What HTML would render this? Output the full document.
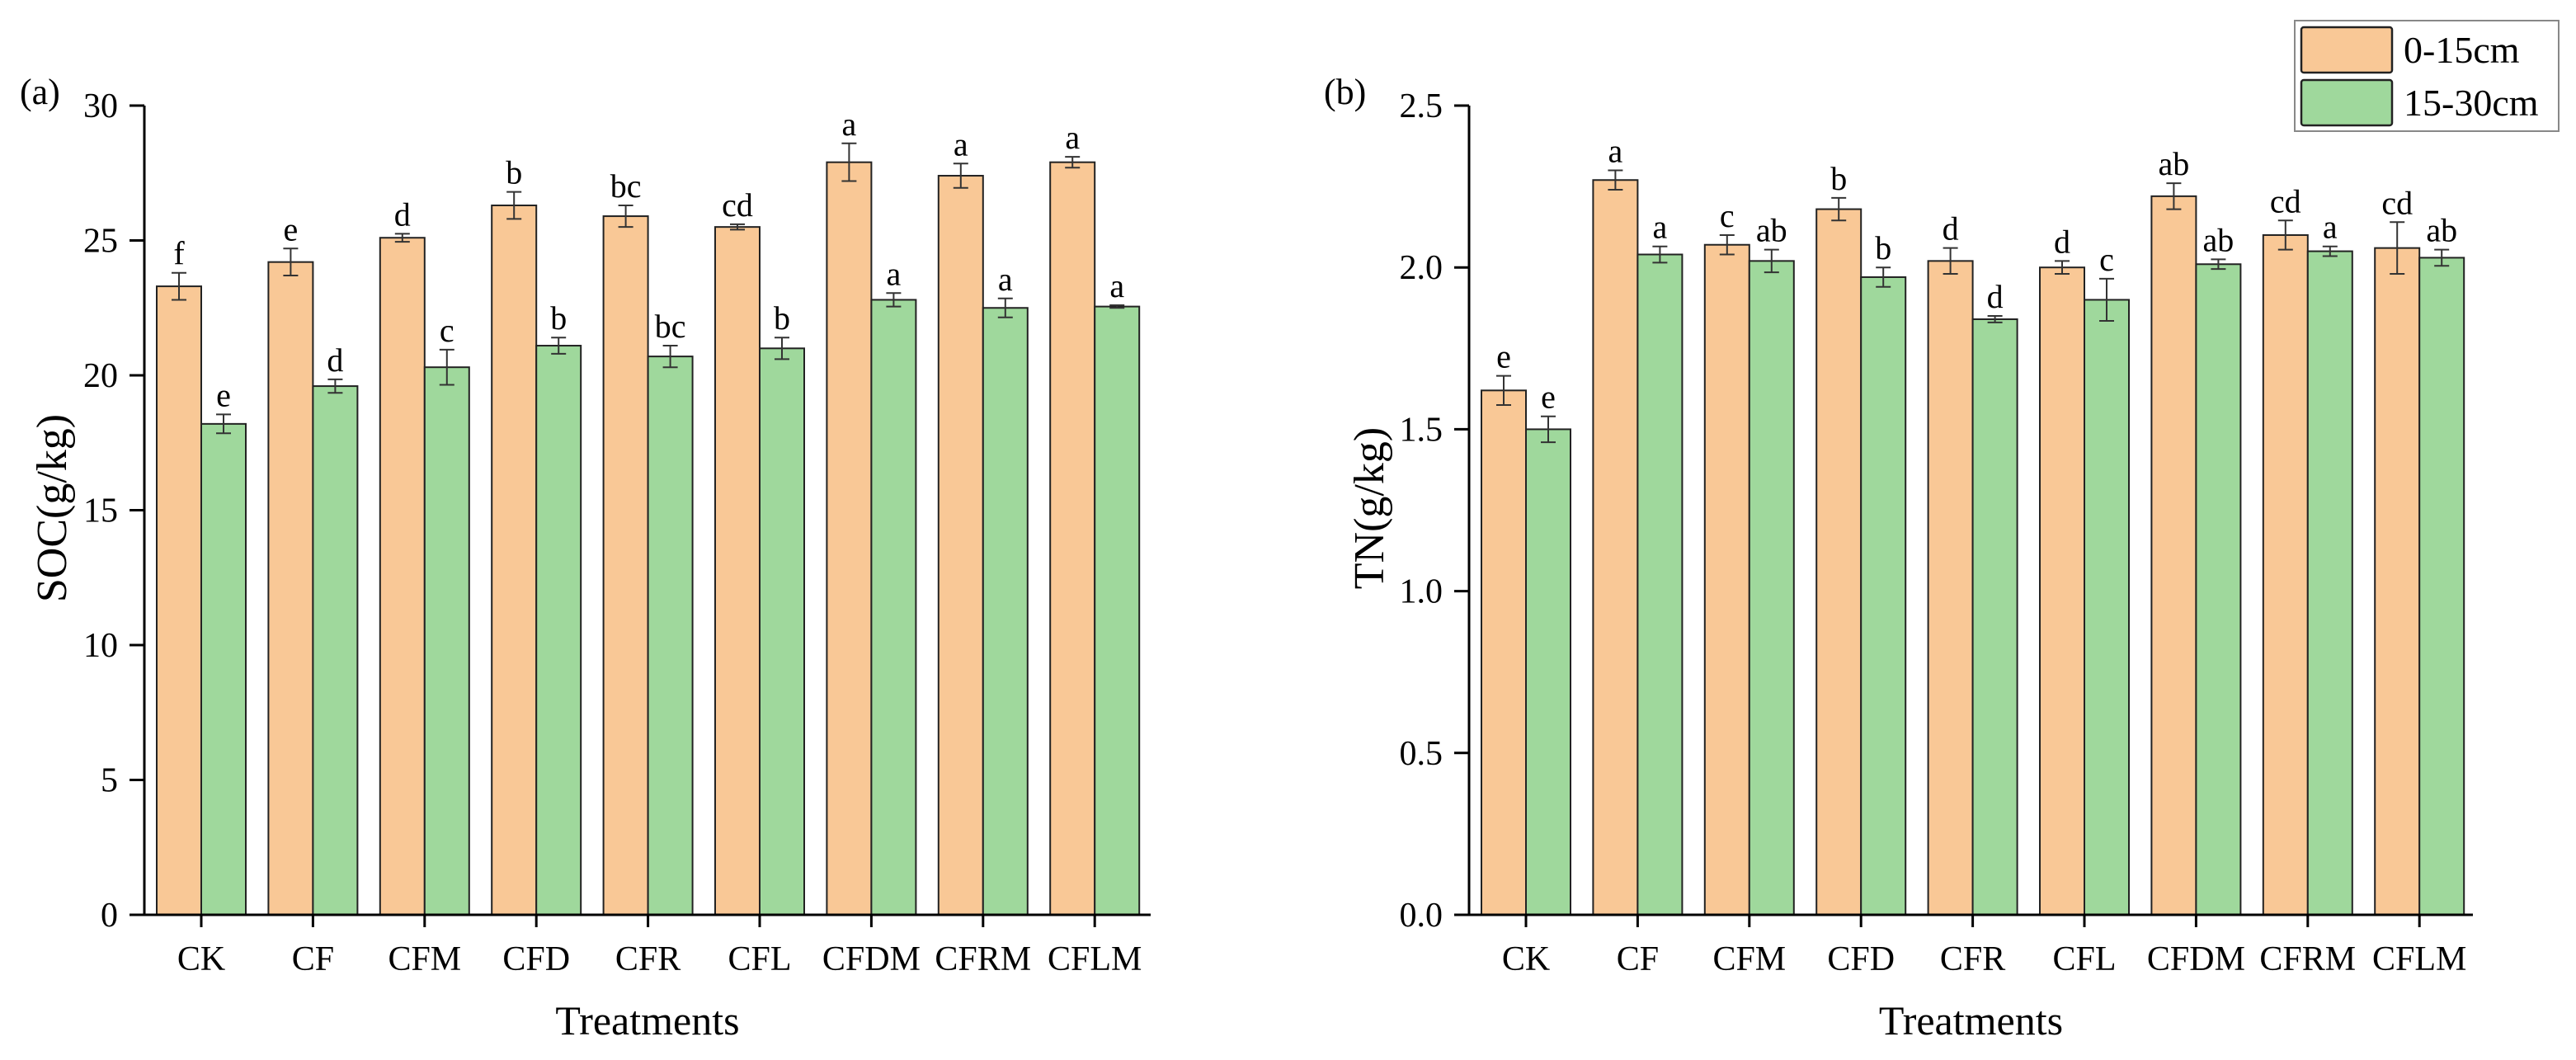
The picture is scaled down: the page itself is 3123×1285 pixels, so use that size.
<!DOCTYPE html>
<html><head><meta charset="utf-8"><style>
body{margin:0;background:#fff}
svg{display:block;font-family:"Liberation Serif",serif}
</style></head><body>
<svg id="fig" width="3123" height="1285" viewBox="0 0 3123 1285"></svg>
<script>
const categories=["CK","CF","CFM","CFD","CFR","CFL","CFDM","CFRM","CFLM"];
const socTop=[23.3,24.2,25.1,26.3,25.9,25.5,27.9,27.4,27.9];
const socTopErr=[0.5,0.5,0.15,0.5,0.4,0.1,0.7,0.45,0.2];
const socSub=[18.2,19.6,20.3,21.1,20.7,21.0,22.8,22.5,22.55];
const socSubErr=[0.35,0.25,0.65,0.3,0.4,0.4,0.25,0.35,0.05];
const socTopLet=["f","e","d","b","bc","cd","a","a","a"];
const socSubLet=["e","d","c","b","bc","b","a","a","a"];
const socTicks=[0,5,10,15,20,25,30];
const tnTop=[1.62,2.27,2.07,2.18,2.02,2.00,2.22,2.10,2.06];
const tnTopErr=[0.045,0.03,0.03,0.035,0.04,0.02,0.04,0.045,0.08];
const tnSub=[1.50,2.04,2.02,1.97,1.84,1.90,2.01,2.05,2.03];
const tnSubErr=[0.04,0.025,0.035,0.03,0.01,0.065,0.015,0.015,0.025];
const tnTopLet=["e","a","c","b","d","d","ab","cd","cd"];
const tnSubLet=["e","a","ab","b","d","c","ab","a","ab"];
const tnTicks=[0.0,0.5,1.0,1.5,2.0,2.5];

const NS="http://www.w3.org/2000/svg";
const svg=document.getElementById('fig');
function mk(tag,attrs,parent,text){const e=document.createElementNS(NS,tag);for(const k in attrs)e.setAttribute(k,attrs[k]);if(text!==undefined)e.textContent=text;(parent||svg).appendChild(e);return e;}

function panel(cfg){
  const g=mk('g',{});
  
  
  const y0=1109,y1=128,ymax=cfg.ticks[cfg.ticks.length-1];
  const ys=v=>y0-(v/ymax)*(y0-y1);
  const xc=i=>cfg.x0+i*135.4;
  const bw=54;
  const series=[[cfg.top,cfg.topErr,cfg.topLet,"#F9C896",-1,"0-15cm"],[cfg.sub,cfg.subErr,cfg.subLet,"#9FD89C",0,"15-30cm"]];
  series.forEach(s=>{
    categories.forEach((c,i)=>{
      const x=xc(i)+s[4]*bw, v=s[0][i], e=s[1][i];
      const r=mk('rect',{x:x,y:ys(v),width:bw,height:y0-ys(v),fill:s[3],stroke:"#222","stroke-width":2},g);
      
      
      const cx=x+bw/2,t=ys(v+e),b=ys(v-e);
      const eb=mk('path',{d:`M${cx} ${t}V${b}M${cx-9} ${t}H${cx+9}M${cx-9} ${b}H${cx+9}`,stroke:"#333","stroke-width":2,fill:"none"},g);
      
      
      const lt=mk('text',{x:cx,y:t-10,"text-anchor":"middle","font-size":40},g,s[2][i]);
      
      
    });
  });
  mk('path',{d:`M${cfg.ax} ${y1}V${y0}H${cfg.axEnd}`,stroke:"#000","stroke-width":3,fill:"none"},g);
  cfg.ticks.forEach(t=>{
    mk('line',{x1:cfg.ax-18,x2:cfg.ax,y1:ys(t),y2:ys(t),stroke:"#000","stroke-width":3},g);
    const tl=mk('text',{x:cfg.ax-32,y:ys(t)+14,"text-anchor":"end","font-size":42},g,cfg.fmt(t));
    
    
  });
  categories.forEach((c,i)=>{
    mk('line',{x1:xc(i),x2:xc(i),y1:y0,y2:y0+15,stroke:"#000","stroke-width":3},g);
    const cl=mk('text',{x:xc(i),y:y0+67,"text-anchor":"middle","font-size":42},g,c);
    
    
  });
  const xt=mk('text',{x:(cfg.ax+cfg.axEnd)/2,y:1254,"text-anchor":"middle","font-size":50},g,"Treatments");
  
  
  const yt=mk('text',{x:cfg.ytx,y:616,"text-anchor":"middle","font-size":52,transform:`rotate(-90 ${cfg.ytx} 616)`},g,cfg.ytitle);
  
  
  const pl=mk('text',{x:cfg.plx,y:126,"font-size":44},g,cfg.label);
  
  
}
panel({name:'soc-chart',x0:244,ax:175,axEnd:1395,ticks:socTicks,fmt:t=>String(t),top:socTop,topErr:socTopErr,topLet:socTopLet,sub:socSub,subErr:socSubErr,subLet:socSubLet,ytitle:"SOC(g/kg)",ytx:80,label:"(a)",plx:24});
panel({name:'tn-chart',x0:1850,ax:1781,axEnd:2998,ticks:tnTicks,fmt:t=>t.toFixed(1),top:tnTop,topErr:tnTopErr,topLet:tnTopLet,sub:tnSub,subErr:tnSubErr,subLet:tnSubLet,ytitle:"TN(g/kg)",ytx:1677,label:"(b)",plx:1605});

const lg=mk('g',{});


mk('rect',{x:2782,y:25,width:320,height:134,fill:"#fff",stroke:"#888","stroke-width":2},lg);
[["#F9C896","0-15cm",33],["#9FD89C","15-30cm",97]].forEach(l=>{
  const e=mk('g',{},lg);
  
  
  mk('rect',{x:2790,y:l[2],width:110,height:55,fill:l[0],stroke:"#222","stroke-width":2.5,rx:3},e);
  mk('text',{x:2914,y:l[2]+43,"font-size":46},e,l[1]);
});
</script>
</body></html>
